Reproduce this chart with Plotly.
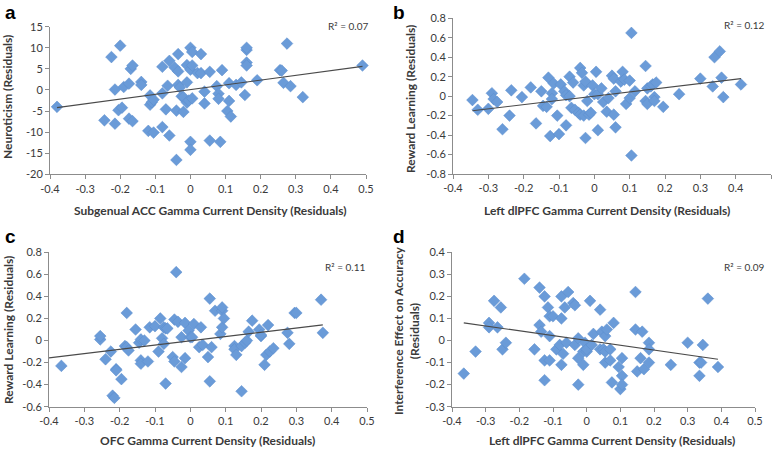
import plotly.graph_objects as go

W, H = 776, 449

# ---------------- data ----------------
a_x = [-0.38, -0.245, -0.225, -0.215, -0.215, -0.2, -0.205, -0.195, -0.19, -0.175, -0.175, -0.17, -0.165, -0.165,
       -0.14, -0.14, -0.115, -0.115, -0.12, -0.11, -0.105, -0.105, -0.08, -0.08, -0.08, -0.065, -0.07, -0.06, -0.06,
       -0.045, -0.04, -0.035, -0.035, -0.035, -0.03, -0.025, -0.02, -0.02, -0.04, -0.01, -0.01, -0.01, -0.005,
       0.0, 0.005, 0.0, 0.005, 0.005, 0.0, 0.0, 0.02, 0.03, 0.03, 0.04, 0.04, 0.055, 0.055, 0.075, 0.08, 0.08,
       0.085, 0.09, 0.105, 0.11, 0.11, 0.115, 0.13, 0.145, 0.155, 0.16, 0.16, 0.16, 0.16, 0.19, 0.255, 0.26,
       0.265, 0.275, 0.285, 0.32, 0.49]
a_y = [-4, -7.2, 7.8, 0.1, -8, 10.5, -4.8, -4.2, 0.7, 1.5, -6.8, 5, 5.8, -7.4,
       1.9, 1.2, -1.3, -3.5, -9.7, -2.9, -2.3, -10.1, 5.5, -0.8, -8.8, 1, -4.6, 6.9, -10.8,
       5.3, -4.9, 4.4, 8.5, 1.2, 0.6, -1.5, -1.7, -5.2, -16.6, 1.8, 5.9, -3, -2.5,
       10, 9, 4.8, 5.8, -2, -12.3, -14.2, 4, 8.5, 4, -0.4, -3.2, 4.3, -12, 0.9, -0.9, -2.1,
       -12.3, 4.7, -5, 1.6, -2.6, -6.3, 1.2, 1.8, -1.2, 9.5, 10, 6.5, 5.8, 2.3, 4.7, 4.6,
       1.7, 11, 0.9, -1.7, 5.8]
a_trend_x = [-0.38, 0.49]
a_trend_y = [-4.2, 5.6]

b_x = [-0.345, -0.33, -0.3, -0.29, -0.285, -0.275, -0.26, -0.24, -0.235, -0.205, -0.18, -0.165, -0.15, -0.145,
       -0.135, -0.13, -0.125, -0.12, -0.12, -0.115, -0.105, -0.1, -0.095, -0.085, -0.08, -0.08, -0.07, -0.07,
       -0.065, -0.06, -0.055, -0.045, -0.04, -0.04, -0.035, -0.03, -0.03, -0.025, -0.025, -0.02, -0.015, -0.01,
       -0.005, 0.0, 0.005, 0.01, 0.01, 0.02, 0.025, 0.035, 0.04, 0.05, 0.055, 0.055, 0.06, 0.06, 0.075, 0.08,
       0.085, 0.09, 0.1, 0.1, 0.105, 0.105, 0.115, 0.145, 0.145, 0.15, 0.15, 0.16, 0.165, 0.17, 0.17, 0.175,
       0.195, 0.24, 0.3, 0.335, 0.34, 0.355, 0.36, 0.365, 0.415]
b_y = [-0.04, -0.14, -0.13, 0.03, -0.03, -0.06, -0.34, -0.2, 0.06, -0.01, 0.09, -0.28, 0.05, -0.1,
       -0.11, 0.19, -0.41, 0.03, -0.03, 0.13, -0.2, -0.39, 0.12, 0.05, 0.01, -0.3, 0.2, 0.0,
       -0.12, 0.14, -0.14, -0.17, 0.29, -0.19, 0.24, 0.11, -0.2, 0.15, -0.43, -0.05, -0.19, -0.17,
       0.11, 0.02, 0.25, 0.02, -0.35, 0.08, -0.06, -0.16, -0.02, 0.21, 0.18, -0.19, 0.05, -0.32, 0.15, 0.25,
       0.17, -0.08, -0.02, 0.16, 0.65, -0.61, 0.05, 0.31, -0.05, 0.08, -0.08, 0.1, 0.12, -0.01, -0.05, 0.14,
       -0.11, 0.02, 0.18, 0.1, 0.4, 0.46, 0.19, -0.01, 0.12]
b_trend_x = [-0.345, 0.415]
b_trend_y = [-0.15, 0.18]

c_x = [-0.365, -0.255, -0.255, -0.24, -0.225, -0.22, -0.215, -0.21, -0.21, -0.195, -0.185, -0.18, -0.18,
       -0.175, -0.155, -0.145, -0.14, -0.14, -0.14, -0.13, -0.12, -0.115, -0.1, -0.09, -0.085, -0.08, -0.075,
       -0.075, -0.07, -0.07, -0.065, -0.05, -0.045, -0.045, -0.04, -0.035, -0.025, -0.025, -0.015, -0.015,
       -0.005, 0.0, 0.005, 0.01, 0.025, 0.03, 0.035, 0.05, 0.055, 0.055, 0.06, 0.07, 0.085, 0.09, 0.09, 0.09,
       0.095, 0.125, 0.125, 0.13, 0.145, 0.145, 0.155, 0.16, 0.165, 0.175, 0.195, 0.2, 0.2, 0.21, 0.215, 0.22,
       0.225, 0.235, 0.275, 0.28, 0.295, 0.3, 0.37, 0.375]
c_y = [-0.23, 0.01, 0.04, -0.17, -0.1, -0.5, -0.52, -0.26, -0.27, -0.35, -0.05, 0.25, -0.06,
       -0.09, 0.1, -0.02, 0.01, -0.18, -0.21, 0.0, -0.19, 0.12, 0.13, -0.1, 0.2, 0.02, -0.03,
       0.12, 0.11, -0.39, 0.11, -0.15, 0.19, -0.19, 0.62, 0.17, 0.03, -0.24, 0.16, -0.16,
       0.09, 0.03, 0.03, 0.15, -0.06, 0.12, -0.04, -0.15, 0.38, -0.37, -0.06, 0.27, 0.06, 0.27, 0.3, 0.12,
       0.2, -0.05, -0.08, -0.13, -0.05, -0.46, -0.02, 0.0, 0.08, 0.18, 0.1, 0.04, 0.05, -0.22, -0.13, 0.14,
       -0.1, -0.07, 0.07, -0.03, 0.25, 0.25, 0.37, 0.07]
c_trend_x = [-0.4, 0.375]
c_trend_y = [-0.158, 0.142]

d_x = [-0.365, -0.33, -0.29, -0.29, -0.275, -0.265, -0.255, -0.25, -0.24, -0.185, -0.155, -0.14, -0.14,
       -0.135, -0.125, -0.125, -0.125, -0.115, -0.11, -0.11, -0.11, -0.1, -0.09, -0.08, -0.075, -0.075,
       -0.075, -0.07, -0.065, -0.06, -0.055, -0.04, -0.035, -0.035, -0.025, -0.025, -0.025, -0.01, -0.01,
       -0.005, 0.0, 0.0, 0.01, 0.015, 0.02, 0.04, 0.04, 0.045, 0.05, 0.055, 0.055, 0.06, 0.055, 0.07, 0.07,
       0.075, 0.08, 0.095, 0.1, 0.105, 0.105, 0.105, 0.145, 0.145, 0.15, 0.16, 0.165, 0.17, 0.185, 0.185,
       0.185, 0.25, 0.3, 0.335, 0.335, 0.34, 0.345, 0.36, 0.39]
d_y = [-0.15, -0.05, 0.08, 0.06, 0.18, 0.06, 0.15, -0.04, -0.01, 0.28, -0.04, 0.24, 0.07,
       0.04, 0.2, -0.09, -0.18, 0.15, 0.11, 0.02, -0.09, 0.11, -0.04, -0.02, 0.2, 0.1,
       -0.11, -0.06, 0.15, -0.01, 0.22, 0.17, 0.16, -0.02, -0.08, 0.01, -0.2, -0.05, -0.11,
       -0.01, -0.05, -0.04, 0.18, -0.02, 0.03, 0.14, -0.04, 0.04, -0.04, -0.05, 0.02, 0.05, -0.1, -0.04, -0.09,
       -0.19, 0.08, -0.12, -0.22, -0.16, -0.2, -0.08, 0.22, 0.05, -0.14, -0.08, 0.04, -0.13, -0.1, -0.01,
       -0.04, -0.11, -0.01, -0.16, -0.1, -0.1, -0.02, 0.19, -0.12]
d_trend_x = [-0.365, 0.39]
d_trend_y = [0.08, -0.085]

x_ticks = [-0.4, -0.3, -0.2, -0.1, 0, 0.1, 0.2, 0.3, 0.4, 0.5]
x_ticktext = ["-0.4", "-0.3", "-0.2", "-0.1", "0", "0.1", "0.2", "0.3", "0.4", "0.5"]
a_yticks = [-20, -15, -10, -5, 0, 5, 10, 15]
a_yticktext = ["-20", "-15", "-10", "-5", "0", "5", "10", "15"]
b_yticks = [-0.8, -0.6, -0.4, -0.2, 0, 0.2, 0.4, 0.6, 0.8]
b_yticktext = ["-0.8", "-0.6", "-0.4", "-0.2", "0", "0.2", "0.4", "0.6", "0.8"]
c_yticks = [-0.6, -0.4, -0.2, 0, 0.2, 0.4, 0.6, 0.8]
c_yticktext = ["-0.6", "-0.4", "-0.2", "0", "0.2", "0.4", "0.6", "0.8"]
d_yticks = [-0.3, -0.2, -0.1, 0, 0.1, 0.2, 0.3, 0.4]
d_yticktext = ["-0.3", "-0.2", "-0.1", "0", "0.1", "0.2", "0.3", "0.4"]

panel_letters = ["a", "b", "c", "d"]
x_titles = ["Subgenual ACC Gamma Current Density (Residuals)",
            "Left dlPFC Gamma Current Density (Residuals)",
            "OFC Gamma Current Density (Residuals)",
            "Left dlPFC Gamma Current Density (Residuals)"]
y_titles = ["Neuroticism (Residuals)", "Reward Learning (Residuals)",
            "Reward Learning (Residuals)", "Interference Effect on Accuracy<br>(Residuals)"]
r2_labels = ["R² = 0.07", "R² = 0.12", "R² = 0.11", "R² = 0.09"]

# ---------------- layout helpers ----------------
FONT = "Lato, 'Liberation Sans', sans-serif"
MARKER = "#6a9bd8"
TXT = "#3a3a3a"

def px_x(p):
    return p / W

def px_y(p):
    return 1 - p / H

panels = [
    dict(x=a_x, y=a_y, tx=a_trend_x, ty=a_trend_y, yr=[-20, 15], yt=a_yticks, ytt=a_yticktext,
         dom_x=(50, 366), dom_y=(26.7, 174.3), letter=(3, 0), xt=(211, 210), yttl=(8, 97), r2=(370, 26)),
    dict(x=b_x, y=b_y, tx=b_trend_x, ty=b_trend_y, yr=[-0.8, 0.8], yt=b_yticks, ytt=b_yticktext,
         dom_x=(453, 771), dom_y=(18.3, 174), letter=(391, 0), xt=(607, 210), yttl=(411, 99), r2=(766, 25)),
    dict(x=c_x, y=c_y, tx=c_trend_x, ty=c_trend_y, yr=[-0.6, 0.8], yt=c_yticks, ytt=c_yticktext,
         dom_x=(49, 367), dom_y=(252.3, 406.7), letter=(3, 224), xt=(207, 440), yttl=(8, 330), r2=(367, 267)),
    dict(x=d_x, y=d_y, tx=d_trend_x, ty=d_trend_y, yr=[-0.3, 0.4], yt=d_yticks, ytt=d_yticktext,
         dom_x=(452, 755), dom_y=(252.3, 406.7), letter=(391, 224), xt=(612, 440), yttl=(406, 331), r2=(766, 267)),
]

fig = go.Figure()
annotations = []
layout_axes = {}
for i, p in enumerate(panels):
    n = "" if i == 0 else str(i + 1)
    xa, ya = "x" + n, "y" + n
    fig.add_trace(go.Scatter(x=p["x"], y=p["y"], mode="markers", xaxis=xa, yaxis=ya,
                             marker=dict(symbol="diamond", size=9, color=MARKER,
                                         line=dict(color="#5a8ccc", width=0.5)),
                             showlegend=False, hoverinfo="x+y", cliponaxis=False))
    fig.add_trace(go.Scatter(x=p["tx"], y=p["ty"], mode="lines", xaxis=xa, yaxis=ya,
                             line=dict(color="#4a4a4a", width=1.2), showlegend=False))
    axis_common = dict(showgrid=False, zeroline=False, showline=True, linecolor="#8c8c8c", linewidth=1,
                       ticks="outside", ticklen=4, tickcolor="#8c8c8c", automargin=False,
                       tickfont=dict(family=FONT, size=11, color=TXT))
    layout_axes["xaxis" + n] = dict(axis_common, domain=[px_x(p["dom_x"][0]), px_x(p["dom_x"][1])],
                                    range=[-0.4, 0.5], tickvals=x_ticks, ticktext=x_ticktext,
                                    anchor=ya, fixedrange=True)
    layout_axes["yaxis" + n] = dict(axis_common, domain=[px_y(p["dom_y"][1]), px_y(p["dom_y"][0])],
                                    range=p["yr"], tickvals=p["yt"], ticktext=p["ytt"],
                                    anchor=xa, fixedrange=True)
    annotations.append(dict(text="<b>%s</b>" % panel_letters[i], x=px_x(p["letter"][0]), y=px_y(p["letter"][1]),
                            xref="paper", yref="paper", xanchor="left", yanchor="top", showarrow=False,
                            font=dict(family="'Liberation Sans', Arial, sans-serif", size=19, color="#000")))
    annotations.append(dict(text="<b>%s</b>" % x_titles[i], x=px_x(p["xt"][0]), y=px_y(p["xt"][1]),
                            xref="paper", yref="paper", xanchor="center", yanchor="middle", showarrow=False,
                            font=dict(family=FONT, size=12, color=TXT)))
    annotations.append(dict(text="<b>%s</b>" % y_titles[i], x=px_x(p["yttl"][0]), y=px_y(p["yttl"][1]),
                            xref="paper", yref="paper", xanchor="center", yanchor="middle", showarrow=False,
                            textangle=-90, font=dict(family=FONT, size=12, color=TXT)))
    annotations.append(dict(text=r2_labels[i], x=px_x(p["r2"][0]), y=px_y(p["r2"][1]),
                            xref="paper", yref="paper", xanchor="right", yanchor="middle", showarrow=False,
                            font=dict(family=FONT, size=10, color=TXT)))

fig.update_layout(template="none", width=W, height=H, margin=dict(l=0, r=0, t=0, b=0, autoexpand=False),
                  paper_bgcolor="white", plot_bgcolor="white",
                  annotations=annotations, **layout_axes)

fig.write_html("out.html", config={"displayModeBar": False},
               post_script="document.body.style.margin='0';document.body.style.overflow='hidden';")
